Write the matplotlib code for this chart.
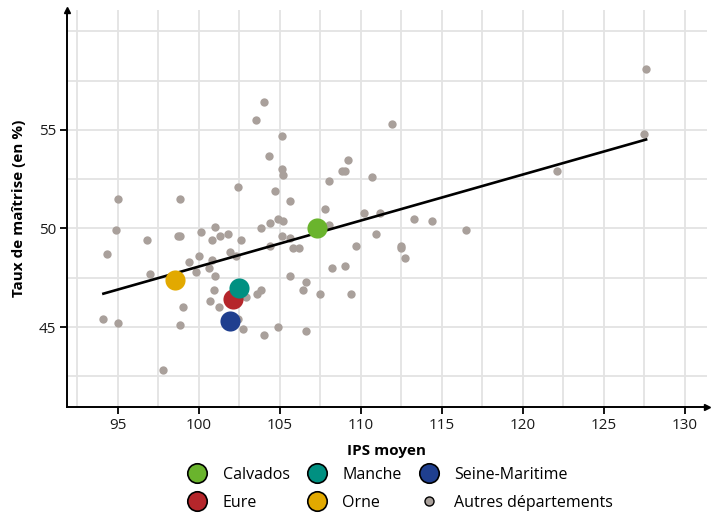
import matplotlib.pyplot as plt
import numpy as np

# -----------------------------
# Data (IPS moyen, taux de maîtrise)
# -----------------------------
others_ips = [
    127.6, 127.5, 122.1, 116.5, 114.4, 113.3, 112.5, 112.5, 112.7, 111.9,
    111.2, 110.2, 110.7, 110.9, 109.7, 109.4, 109.2, 108.8, 109.0, 109.0,
    108.0, 108.2, 107.8, 108.0, 107.5, 106.6, 106.4, 106.6, 106.2, 105.8,
    105.6, 105.6, 105.6, 105.1, 105.1, 105.2, 104.7, 104.9, 105.2, 105.1,
    104.4, 104.4, 104.9, 104.3, 104.0, 103.5, 103.8, 103.8, 103.6, 104.0,
    102.6, 102.4, 102.3, 102.7, 102.9, 101.9, 101.8, 101.3, 101.0, 100.8,
    100.0, 100.8, 100.6, 101.0, 100.9, 101.25, 100.7, 100.1, 99.8, 99.4,
    98.7, 98.85, 98.8, 99.0, 98.8, 97.8, 96.8, 97.0, 94.9, 95.0,
    94.3, 95.0, 94.1, 102.4,
]
others_taux = [
    58.1, 54.8, 52.9, 49.9, 50.4, 50.5, 49.1, 49.0, 48.5, 55.3,
    50.8, 50.8, 52.6, 49.7, 49.1, 46.7, 53.5, 52.9, 52.9, 48.1,
    52.4, 48.0, 51.0, 50.2, 46.7, 47.3, 46.9, 44.8, 49.0, 49.0,
    47.6, 49.5, 51.4, 54.7, 53.0, 52.7, 51.9, 50.5, 50.4, 49.6,
    50.3, 49.1, 45.0, 53.7, 56.4, 55.5, 50.0, 46.9, 46.7, 44.6,
    49.4, 52.1, 48.6, 44.9, 46.5, 48.8, 49.7, 49.6, 50.1, 49.4,
    48.6, 48.4, 48.0, 47.6, 46.9, 46.0, 46.3, 49.8, 47.8, 48.3,
    49.6, 49.6, 51.5, 46.0, 45.1, 42.8, 49.4, 47.7, 49.9, 51.5,
    48.7, 45.2, 45.4, 45.4,
]

departements = ["Calvados", "Eure", "Manche", "Orne", "Seine-Maritime"]
dep_ips = [107.3, 102.1, 102.5, 98.5, 101.9]
dep_taux = [50.0, 46.4, 47.0, 47.4, 45.3]
dep_colors = ["#6ab42d", "#b5262b", "#009081", "#e2a900", "#1f3f8f"]

# droite de tendance
trend_slope = 0.2335
trend_intercept = 24.72

grey = "#a9a09b"

plt.rcParams["font.family"] = ["Open Sans", "DejaVu Sans"]
plt.rcParams["font.size"] = 11

# -----------------------------
# Figure
# -----------------------------
fig = plt.figure(figsize=(7.24, 5.13), dpi=100)
ax = fig.add_axes([0.0925, 0.2066, 0.884, 0.774])

ax.scatter(others_ips, others_taux, s=36, color=grey, linewidths=0, zorder=3)

all_x = np.array(others_ips + dep_ips)
xs = np.array([all_x.min(), all_x.max()])
ax.plot(xs, trend_intercept + trend_slope * xs, color="black", lw=1.9, zorder=4)

for name, xv, yv, c in zip(departements, dep_ips, dep_taux, dep_colors):
    ax.scatter([xv], [yv], s=210, color=c, linewidths=0, zorder=5)

ax.set_xlim(91.85, 131.36)
ax.set_ylim(40.94, 61.09)
ax.set_xticks(np.arange(95, 131, 5))
ax.set_xticks(np.arange(92.5, 131, 5), minor=True)
ax.set_yticks([45, 50, 55])
ax.set_yticks([42.5, 47.5, 52.5, 57.5, 60], minor=True)
ax.grid(True, which="both", color="#e3e3e3", lw=1.3, zorder=0)
ax.set_axisbelow(True)
ax.tick_params(which="minor", length=0)
ax.tick_params(which="major", length=5, width=1.3, color="black",
               labelsize=11, labelcolor="#1a1a1a", pad=3)

for side in ["top", "right"]:
    ax.spines[side].set_visible(False)
for side in ["left", "bottom"]:
    ax.spines[side].set_linewidth(1.4)

ax.plot(1, 0, ">", color="black", ms=5, transform=ax.transAxes, clip_on=False)
ax.plot(0, 1, "^", color="black", ms=5, transform=ax.transAxes, clip_on=False)

ax.set_xlabel("IPS moyen", fontweight="bold", fontsize=11, labelpad=8)
ax.set_ylabel("Taux de maîtrise (en %)", fontweight="bold", fontsize=11, labelpad=9)

# legend
handles = []
for name, c in zip(departements, dep_colors):
    handles.append(plt.Line2D([], [], ls="", marker="o", ms=14, mfc=c,
                              mec="black", mew=1.2, label=name))
handles.append(plt.Line2D([], [], ls="", marker="o", ms=6.5, mfc=grey,
                          mec="black", mew=1.0, label="Autres départements"))
fig.legend(handles=handles, ncol=3, loc="upper center",
           bbox_to_anchor=(0.553, 0.118), frameon=False,
           fontsize=11.5, handlelength=1.2, handletextpad=1.0, columnspacing=1.1,
           labelspacing=0.75, bbox_transform=fig.transFigure)

fig.savefig("out.png", dpi=100)
